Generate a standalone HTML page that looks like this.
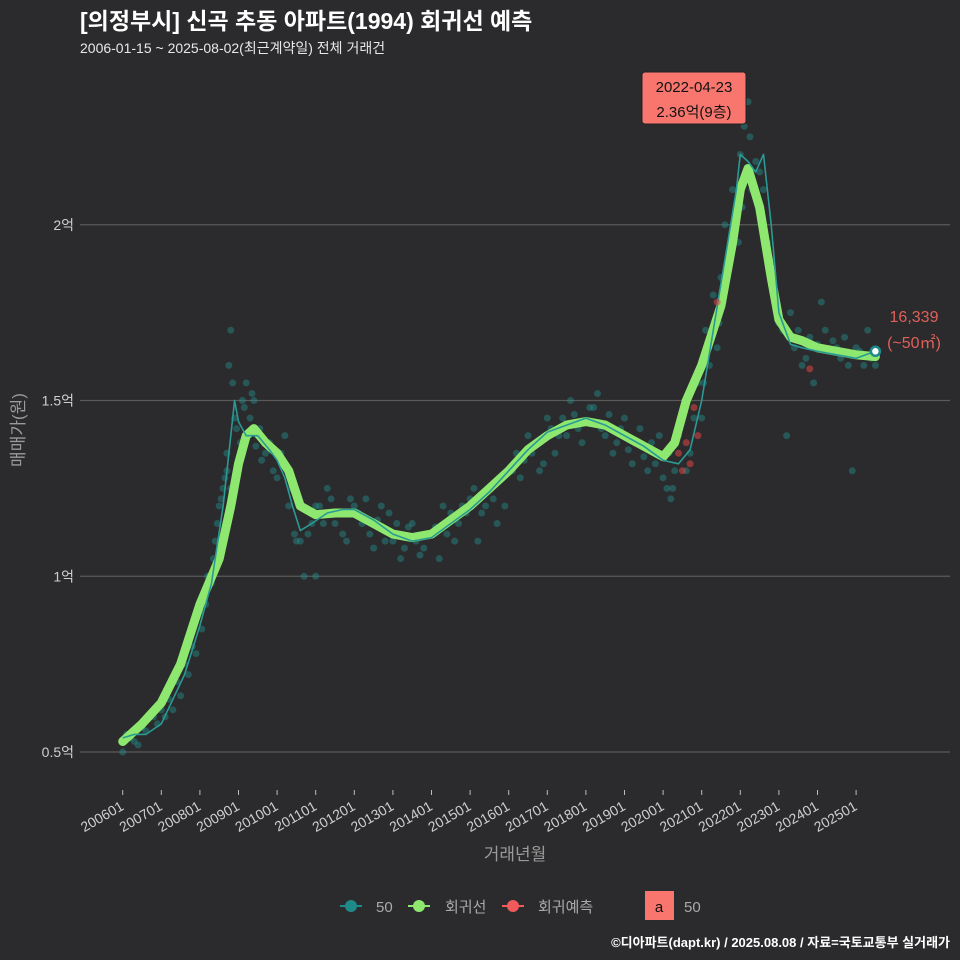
<!DOCTYPE html>
<html><head><meta charset="utf-8">
<style>
body{margin:0;background:#2b2a2c;}
svg{display:block;font-family:"Liberation Sans","Noto Sans CJK KR",sans-serif;}
</style></head>
<body>
<svg id="c" width="960" height="960" viewBox="0 0 960 960">
<rect width="960" height="960" fill="#2b2a2c"/>
<text x="80" y="29" fill="#ffffff" font-size="23" font-weight="bold">[의정부시] 신곡 추동 아파트(1994) 회귀선 예측</text>
<text x="80" y="53" fill="#e8e8e8" font-size="14">2006-01-15 ~ 2025-08-02(최근계약일) 전체 거래건</text>
<g id="grid"></g>
<g id="pts"></g>
<g id="lines"></g>
<g id="axes"></g>
<text x="24" y="430" fill="#9a9a9a" font-size="17" transform="rotate(-90 24 430)" text-anchor="middle">매매가(원)</text>
<text x="515" y="860" fill="#9a9a9a" font-size="17" text-anchor="middle">거래년월</text>
<g>
<rect x="642" y="72" width="104" height="52" rx="3" fill="#f8766d" stroke="#222" stroke-width="1"/>
<text x="694" y="92" font-size="15" text-anchor="middle" fill="#111">2022-04-23</text>
<text x="694" y="117" font-size="15" text-anchor="middle" fill="#111">2.36억(9층)</text>
</g>
<text x="914" y="322" fill="#e0605a" font-size="16" text-anchor="middle">16,339</text>
<text x="914" y="348" fill="#e0605a" font-size="16" text-anchor="middle">(~50㎡)</text>
<g>
<g><line x1="340" y1="906" x2="362" y2="906" stroke="#1f8a8a" stroke-width="2"/><circle cx="351" cy="906" r="6" fill="#1f8a8a"/><text x="376" y="912" fill="#aaa" font-size="15">50</text></g>
<g><line x1="408" y1="906" x2="430" y2="906" stroke="#8ee86f" stroke-width="2"/><circle cx="419" cy="906" r="6" fill="#8ee86f"/><text x="445" y="912" fill="#aaa" font-size="15">회귀선</text></g>
<g><line x1="502" y1="906" x2="524" y2="906" stroke="#f05a5a" stroke-width="2"/><circle cx="513" cy="906" r="6" fill="#f05a5a"/><text x="538" y="912" fill="#aaa" font-size="15">회귀예측</text></g>
<g><rect x="645" y="891" width="29" height="29" fill="#f8766d"/><text x="659" y="912" fill="#111" font-size="15" text-anchor="middle">a</text><text x="684" y="912" fill="#aaa" font-size="15">50</text></g>
</g>
<text x="950" y="947" fill="#ffffff" font-size="13" font-weight="bold" text-anchor="end">©디아파트(dapt.kr) / 2025.08.08 / 자료=국토교통부 실거래가</text>
</svg>
<script>
const yTicks=[0.5,1,1.5,2];
const yTickLabels=["0.5억","1억","1.5억","2억"];
const xTickYears=[2006,2007,2008,2009,2010,2011,2012,2013,2014,2015,2016,2017,2018,2019,2020,2021,2022,2023,2024,2025];
const trendT=[2006.0,2006.5,2007.0,2007.5,2008.0,2008.5,2008.8,2009.0,2009.2,2009.4,2009.7,2010.0,2010.3,2010.6,2011.0,2011.5,2012.0,2012.5,2013.0,2013.5,2014.0,2014.5,2015.0,2015.5,2016.0,2016.5,2017.0,2017.5,2018.0,2018.5,2019.0,2019.5,2020.0,2020.3,2020.6,2021.0,2021.5,2021.8,2022.0,2022.2,2022.5,2022.8,2023.0,2023.3,2023.6,2024.0,2024.5,2025.0,2025.5];
const trendV=[0.53,0.58,0.64,0.75,0.92,1.05,1.2,1.32,1.40,1.42,1.38,1.35,1.30,1.20,1.175,1.18,1.18,1.15,1.12,1.11,1.12,1.16,1.20,1.25,1.30,1.36,1.40,1.43,1.44,1.43,1.40,1.37,1.34,1.38,1.50,1.60,1.77,1.95,2.10,2.16,2.05,1.85,1.73,1.68,1.67,1.65,1.64,1.63,1.625];
const maT=[2006.0,2006.3,2006.6,2007.0,2007.3,2007.6,2008.0,2008.3,2008.6,2008.8,2008.9,2009.0,2009.2,2009.5,2009.8,2010.0,2010.2,2010.4,2010.6,2010.9,2011.3,2011.7,2012.0,2012.5,2013.0,2013.5,2014.0,2014.5,2015.0,2015.5,2016.0,2016.5,2017.0,2017.5,2018.0,2018.5,2019.0,2019.5,2020.0,2020.4,2020.7,2021.0,2021.3,2021.6,2021.9,2022.0,2022.2,2022.4,2022.6,2022.8,2023.0,2023.3,2023.6,2024.0,2024.5,2025.0,2025.5];
const maV=[0.54,0.55,0.55,0.58,0.65,0.72,0.86,0.98,1.20,1.40,1.50,1.44,1.40,1.40,1.36,1.33,1.28,1.20,1.13,1.15,1.18,1.19,1.19,1.16,1.12,1.10,1.11,1.15,1.19,1.24,1.30,1.36,1.41,1.43,1.45,1.43,1.40,1.37,1.33,1.32,1.36,1.50,1.70,1.90,2.10,2.20,2.18,2.15,2.20,2.00,1.75,1.66,1.65,1.64,1.63,1.62,1.64];
const ptT=[2006.0,2006.1,2006.3,2006.5,2006.8,2007.0,2007.2,2007.4,2007.6,2007.8,2008.0,2008.1,2008.2,2008.4,2008.5,2008.6,2008.7,2008.75,2008.8,2008.85,2008.9,2009.0,2009.1,2009.2,2009.3,2009.5,2009.7,2009.9,2010.1,2010.3,2010.5,2010.7,2010.9,2011.1,2011.3,2011.5,2011.8,2012.0,2012.2,2012.5,2012.7,2013.0,2013.2,2013.5,2013.8,2014.0,2014.3,2014.6,2014.9,2015.1,2015.4,2015.7,2016.0,2016.2,2016.5,2016.8,2017.0,2017.3,2017.6,2017.9,2018.1,2018.4,2018.7,2019.0,2019.3,2019.6,2019.9,2020.1,2020.3,2020.5,2020.7,2020.9,2021.1,2021.3,2021.5,2021.6,2021.7,2021.8,2021.9,2022.0,2022.1,2022.3,2022.5,2022.7,2022.9,2023.1,2023.3,2023.6,2023.9,2024.2,2024.5,2024.8,2025.0,2025.3,2025.5,2007.1,2008.3,2009.4,2010.2,2011.0,2012.3,2013.1,2014.2,2015.2,2016.3,2017.2,2018.3,2019.2,2020.2,2021.0,2022.2,2023.2,2024.1,2024.9,
2006.2,2006.4,2006.6,2006.9,2007.3,2007.5,2007.7,2007.9,2008.05,2008.15,2008.25,2008.35,2008.45,2008.55,2008.65,2008.7,2008.8,2008.95,2009.05,2009.15,2009.25,2009.35,2009.45,2009.55,2009.6,2009.8,2010.0,2010.15,2010.35,2010.45,2010.6,2010.8,2011.0,2011.2,2011.4,2011.6,2011.7,2011.9,2012.1,2012.4,2012.6,2012.8,2012.9,2013.3,2013.4,2013.6,2013.7,2013.9,2014.1,2014.4,2014.5,2014.7,2014.8,2015.0,2015.3,2015.5,2015.6,2015.8,2015.9,2016.1,2016.4,2016.6,2016.7,2016.9,2017.1,2017.4,2017.5,2017.7,2017.8,2018.0,2018.2,2018.5,2018.6,2018.8,2018.9,2019.1,2019.4,2019.5,2019.7,2019.8,2020.0,2020.15,2020.25,2020.4,2020.6,2020.8,2021.05,2021.2,2021.4,2021.45,2021.55,2021.65,2021.75,2021.85,2021.95,2022.05,2022.15,2022.25,2022.4,2022.6,2022.8,2023.0,2023.4,2023.5,2023.7,2023.8,2024.0,2024.3,2024.4,2024.6,2024.7,2025.1,2025.2,2025.4];
const ptV=[0.50,0.55,0.53,0.57,0.60,0.62,0.65,0.70,0.75,0.80,0.90,0.95,1.00,1.10,1.20,1.25,1.30,1.60,1.70,1.55,1.45,1.30,1.50,1.55,1.45,1.40,1.35,1.30,1.35,1.20,1.10,1.00,1.15,1.20,1.25,1.15,1.10,1.20,1.15,1.08,1.20,1.10,1.05,1.15,1.08,1.12,1.20,1.10,1.18,1.25,1.20,1.15,1.30,1.35,1.40,1.30,1.45,1.40,1.50,1.38,1.48,1.42,1.35,1.45,1.38,1.30,1.40,1.25,1.30,1.45,1.35,1.55,1.70,1.80,1.85,2.00,1.90,2.10,2.30,2.20,2.28,2.10,2.15,1.95,1.80,1.70,1.75,1.60,1.55,1.70,1.65,1.60,1.65,1.70,1.60,0.60,0.98,1.50,1.40,1.00,1.22,1.15,1.05,1.10,1.28,1.35,1.52,1.32,1.22,1.45,2.35,1.40,1.78,1.30,
0.54,0.52,0.56,0.58,0.62,0.66,0.72,0.78,0.85,0.92,1.00,1.05,1.15,1.22,1.28,1.35,1.25,1.42,1.38,1.48,1.40,1.52,1.37,1.42,1.33,1.38,1.28,1.32,1.25,1.12,1.10,1.12,1.20,1.15,1.22,1.18,1.12,1.22,1.18,1.12,1.16,1.10,1.18,1.08,1.14,1.10,1.06,1.12,1.14,1.12,1.18,1.15,1.20,1.22,1.18,1.25,1.22,1.28,1.20,1.30,1.33,1.35,1.38,1.32,1.42,1.45,1.40,1.46,1.42,1.44,1.48,1.40,1.46,1.38,1.42,1.36,1.42,1.34,1.38,1.32,1.28,1.35,1.25,1.40,1.30,1.45,1.55,1.60,1.65,1.72,1.78,1.85,1.92,2.00,1.95,2.05,2.15,2.25,2.18,2.10,1.90,1.72,1.65,1.70,1.62,1.68,1.66,1.64,1.67,1.62,1.68,1.64,1.60,1.62];
const predT=[2020.4,2020.5,2020.6,2020.7,2020.8,2020.9,2021.4,2023.8];
const predV=[1.35,1.30,1.38,1.32,1.48,1.40,1.78,1.59];

const xOf=t=>122.7+(t-2006)*38.6;
const yOf=v=>752-(v-0.5)*351.5;
const NS="http://www.w3.org/2000/svg";
function mk(tag,parent,attrs){const e=document.createElementNS(NS,tag);for(const k in attrs)e.setAttribute(k,attrs[k]);parent.appendChild(e);return e;}
const grid=document.getElementById('grid'),axes=document.getElementById('axes'),pts=document.getElementById('pts'),lines=document.getElementById('lines');
yTicks.forEach((v,i)=>{
  const l=mk('line',grid,{x1:80,x2:950,y1:yOf(v),y2:yOf(v),stroke:'#5a5a5a','stroke-width':1.2});
  
  
  const t=mk('text',axes,{x:74,y:yOf(v)+5,fill:'#cfcfcf','font-size':14,'text-anchor':'end'});
  t.textContent=yTickLabels[i];
  
  
});
xTickYears.forEach(yr=>{
  const x=xOf(yr);
  const tk=mk('line',axes,{x1:x,x2:x,y1:790,y2:795,stroke:'#bbb','stroke-width':1});
  
  
  const t=mk('text',axes,{x:x+2,y:809,fill:'#cfcfcf','font-size':14,'text-anchor':'end',transform:`rotate(-30 ${x+2} 809)`});
  t.textContent=yr+"01";
  
  
});
ptT.forEach((t,i)=>{
  const c=mk('circle',pts,{cx:xOf(t),cy:yOf(ptV[i]),r:3.5,fill:'#238f8c','fill-opacity':0.45});
  
  
});
const path=(T,V)=>T.map((t,i)=>(i?'L':'M')+xOf(t).toFixed(1)+','+yOf(V[i]).toFixed(1)).join(' ');
const tr=mk('path',lines,{d:path(trendT,trendV),fill:'none',stroke:'#8ee86f','stroke-width':9,'stroke-linejoin':'round','stroke-linecap':'round'});


const ma=mk('path',lines,{d:path(maT,maV),fill:'none',stroke:'#2a9a95','stroke-width':1.6,'stroke-linejoin':'round'});


predT.forEach((t,i)=>{
  const c=mk('circle',lines,{cx:xOf(t),cy:yOf(predV[i]),r:3.5,fill:'#e04545','fill-opacity':0.55});
  
  
});
const last=mk('circle',lines,{cx:xOf(maT[maT.length-1]),cy:yOf(maV[maV.length-1]),r:4.5,fill:'#fff',stroke:'#1f8a8a','stroke-width':2.5});


</script>
</body></html>
